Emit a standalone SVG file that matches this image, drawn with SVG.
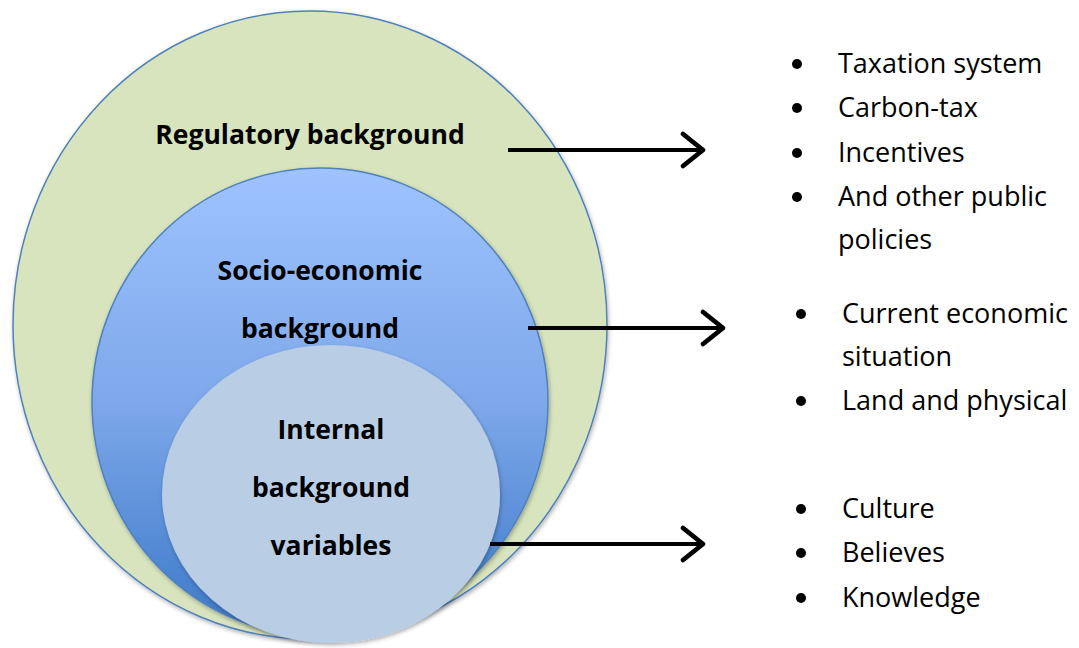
<svg xmlns="http://www.w3.org/2000/svg" width="1079" height="648" viewBox="0 0 1079 648">
<style>
.lbl{font-family:"Open Sans","Liberation Sans",sans-serif;font-weight:bold;font-size:26.5px;fill:#000;text-anchor:middle}
.item{font-family:"Open Sans","Liberation Sans",sans-serif;font-size:27px;fill:#000}
.bul{fill:#000}
.conn{stroke:#000;stroke-width:4;fill:none}
</style>
<defs>
<linearGradient id="blue" x1="0" y1="0" x2="0" y2="1">
<stop offset="0" stop-color="#9EC3FF"/>
<stop offset="0.5" stop-color="#7EA8EA"/>
<stop offset="1" stop-color="#3A78C8"/>
</linearGradient>
<filter id="sh" x="-10%" y="-10%" width="120%" height="120%">
<feDropShadow dx="1" dy="2" stdDeviation="2" flood-color="#000" flood-opacity="0.3"/>
</filter>
<marker id="arr" markerWidth="8" markerHeight="10" refX="6" refY="5" orient="auto" markerUnits="strokeWidth">
<path d="M1,1 L6,5 L1,9" fill="none" stroke="#000" stroke-width="1.2" stroke-linecap="round" stroke-linejoin="round"/>
</marker>
</defs>
<rect width="1079" height="648" fill="#fff"/>
<g id="regulatory">
<ellipse cx="310" cy="325" rx="297" ry="314" fill="#D7E4BD" stroke="#4F81BD" stroke-width="1.5" filter="url(#sh)"/>
<text class="lbl" x="310" y="144">Regulatory background</text>
</g>
<g id="socio-economic">
<ellipse cx="320" cy="402" rx="228" ry="234" fill="url(#blue)" stroke="#4F81BD" stroke-width="1.5" filter="url(#sh)"/>
<text class="lbl" x="320" y="280">Socio-economic</text>
<text class="lbl" x="320" y="338">background</text>
</g>
<g id="internal">
<ellipse cx="331" cy="494" rx="169" ry="149" fill="#B9CDE5" filter="url(#sh)"/>
<text class="lbl" x="331" y="439">Internal</text>
<text class="lbl" x="331" y="497">background</text>
<text class="lbl" x="331" y="555">variables</text>
</g>
<g id="connectors">
<line class="conn" x1="508" y1="150" x2="703" y2="150" marker-end="url(#arr)"/>
<line class="conn" x1="528" y1="328" x2="723" y2="328" marker-end="url(#arr)"/>
<line class="conn" x1="490" y1="544" x2="703" y2="544" marker-end="url(#arr)"/>
</g>
<g id="list-regulatory">
<circle class="bul" cx="797" cy="64" r="5"/><text class="item" x="838" y="73">Taxation system</text>
<circle class="bul" cx="797" cy="108" r="5"/><text class="item" x="838" y="117">Carbon-tax</text>
<circle class="bul" cx="797" cy="153" r="5"/><text class="item" x="838" y="162">Incentives</text>
<circle class="bul" cx="797" cy="197" r="5"/><text class="item" x="838" y="206">And other public</text>
<text class="item" x="838" y="249">policies</text>
</g>
<g id="list-socio">
<circle class="bul" cx="801" cy="314" r="5"/><text class="item" x="842" y="323">Current economic</text>
<text class="item" x="842" y="366">situation</text>
<circle class="bul" cx="801" cy="401" r="5"/><text class="item" x="842" y="410">Land and physical</text>
</g>
<g id="list-internal">
<circle class="bul" cx="801" cy="509" r="5"/><text class="item" x="842" y="518">Culture</text>
<circle class="bul" cx="801" cy="553" r="5"/><text class="item" x="842" y="562">Believes</text>
<circle class="bul" cx="801" cy="598" r="5"/><text class="item" x="842" y="607">Knowledge</text>
</g>
</svg>
